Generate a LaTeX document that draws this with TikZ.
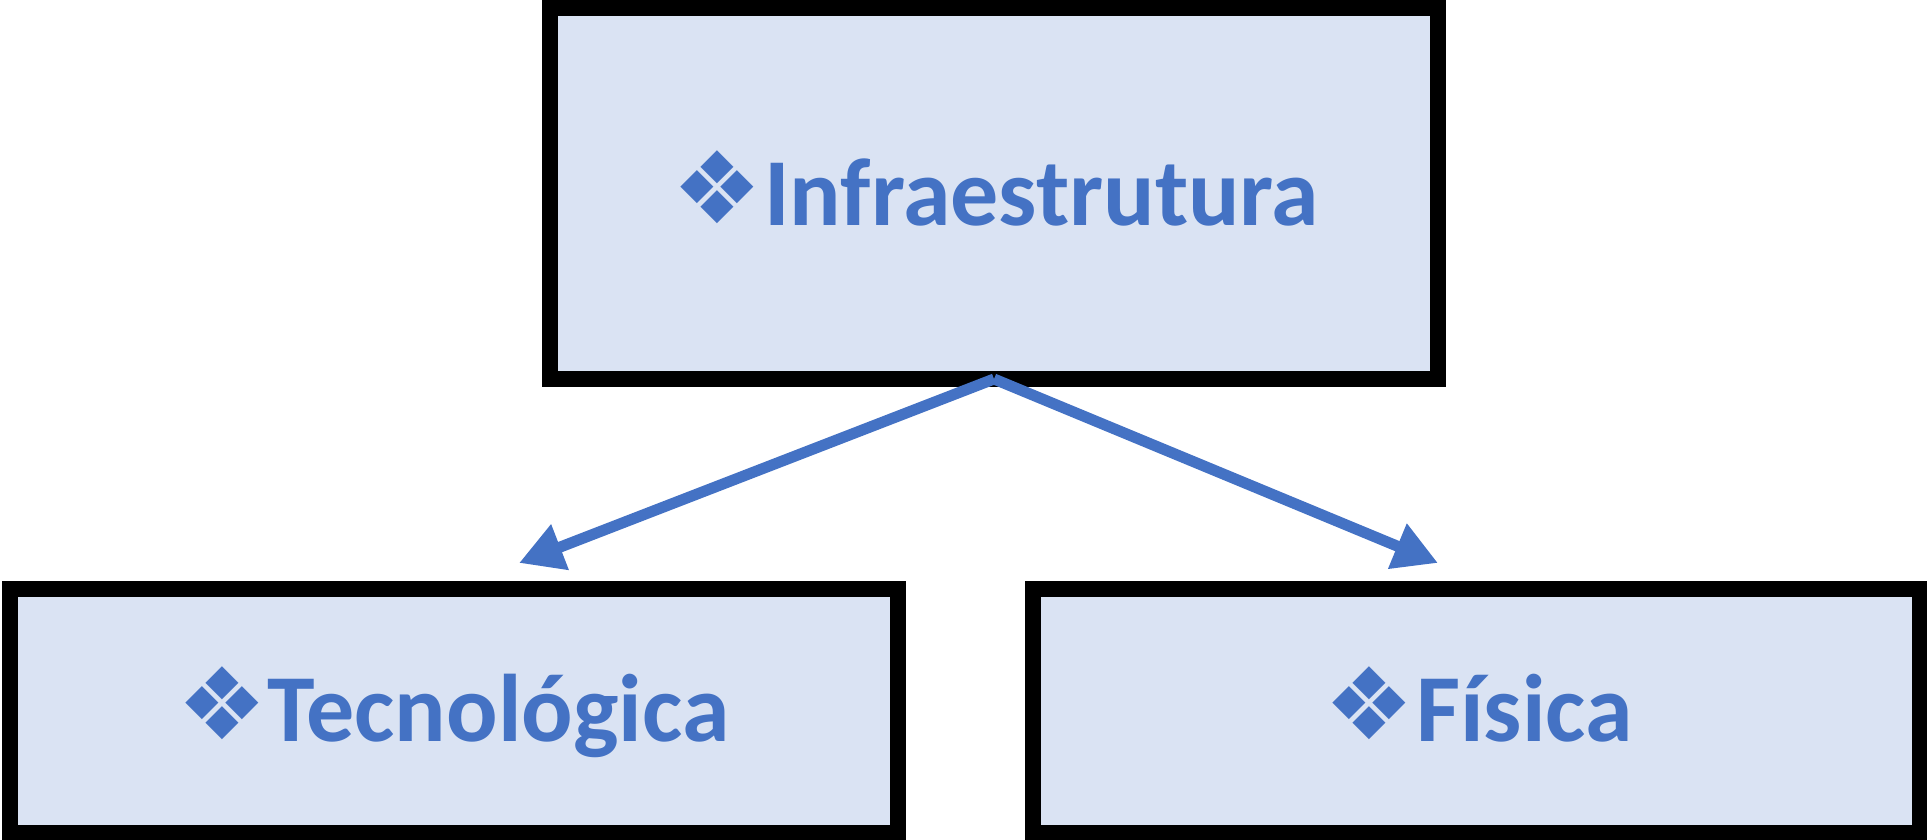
\documentclass[tikz,border=0pt]{standalone}
\usepackage{fontspec}
\setmainfont{Carlito}
\newfontfamily\symfont{DejaVu Sans}
\usetikzlibrary{arrows.meta}
\definecolor{accent}{HTML}{4472C4}
\definecolor{boxfill}{HTML}{DAE3F3}
\tikzset{
  box/.style={draw=black, line width=16pt, fill=boxfill, inner sep=0pt, outer sep=0pt, minimum height=244pt},
  lbl/.style={text=accent, inner sep=0pt, font=\fontsize{96}{100}\selectfont\bfseries},
  sym/.style={text=accent, inner sep=0pt, font=\symfont\fontsize{100}{100}\selectfont},
  arr/.style={draw=accent, line width=11pt, -{Triangle[length=44pt,width=46pt]}}
}
\begin{document}
\begin{tikzpicture}[x=1pt,y=-1pt]
\useasboundingbox (0,0) rectangle (1927,839);
% boxes
\node[box, minimum width=888pt, minimum height=371pt] (top) at (994,193.5) {};
\node[box, minimum width=888pt] (left) at (454,711) {};
\node[box, minimum width=887pt] (right) at (1476.5,711) {};
% labels
\node[sym] (s1) at (717,187) {❖};
\node[lbl, anchor=base west] (t1) at (764,225) {Infraestrutura};
\node[sym] (s2) at (222,703) {❖};
\node[lbl, anchor=base west] (t2) at (267,741) {Tecnológica};
\node[sym] (s3) at (1369,703) {❖};
\node[lbl, anchor=base west] (t3) at (1416,741) {Física};
% connectors
\coordinate (tipL) at (519,563);
\coordinate (tipR) at (1438,563);
\draw[arr] (top.south) -- (tipL);
\draw[arr] (top.south) -- (tipR);
\end{tikzpicture}
\end{document}
